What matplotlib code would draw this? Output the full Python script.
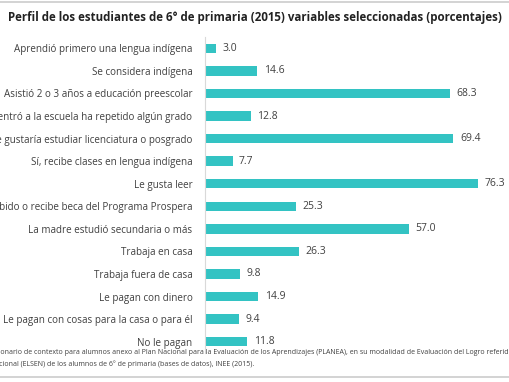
import matplotlib.pyplot as plt

# datos
categorias = [
    'Aprendió primero una lengua indígena',
    'Se considera indígena',
    'Asistió 2 o 3 años a educación preescolar',
    'Desde que entró a la escuela ha repetido algún grado',
    'Le gustaría estudiar licenciatura o posgrado',
    'Sí, recibe clases en lengua indígena',
    'Le gusta leer',
    'Ha recibido o recibe beca del Programa Prospera',
    'La madre estudió secundaria o más',
    'Trabaja en casa',
    'Trabaja fuera de casa',
    'Le pagan con dinero',
    'Le pagan con cosas para la casa o para él',
    'No le pagan',
]
valores = [3.0, 14.6, 68.3, 12.8, 69.4, 7.7, 76.3, 25.3, 57.0, 26.3, 9.8, 14.9, 9.4, 11.8]

titulo = 'Perfil de los estudiantes de 6° de primaria (2015) variables seleccionadas (porcentajes)'
fuente_1 = ('Fuente: Cuestionario de contexto para alumnos anexo al Plan Nacional para la Evaluación de los '
            'Aprendizajes (PLANEA), en su modalidad de Evaluación del Logro referida al Sistema')
fuente_2 = 'Educativo Nacional (ELSEN) de los alumnos de 6° de primaria (bases de datos), INEE (2015).'

plt.rcParams['font.family'] = ['Open Sans', 'DejaVu Sans']
color_barra = '#33C3C3'
color_texto = '#404040'

fig = plt.figure(figsize=(5.1, 3.82), dpi=100)
ax = fig.add_axes([205 / 510, 1 - 353 / 382, 285 / 510, (353 - 37) / 382])

y = list(range(len(categorias)))
ax.barh(y, valores, height=0.42, color=color_barra)
for yi, v in zip(y, valores):
    ax.text(v + 1.8, yi, f'{v:.1f}', va='center', ha='left', fontsize=7.5, color=color_texto)

ax.set_yticks(y)
ax.set_yticklabels(categorias, fontsize=7.1, color=color_texto)
ax.set_ylim(len(categorias) - 0.5, -0.5)
ax.set_xlim(0, 285 / 3.58)
ax.set_xticks([])
ax.tick_params(axis='y', length=0, pad=9)
for s in ['top', 'right', 'bottom']:
    ax.spines[s].set_visible(False)
ax.spines['left'].set_color('#d9d9d9')
ax.spines['left'].set_linewidth(0.8)

fig.text(0.5, 1 - 17 / 382, titulo, ha='center', va='center', fontsize=8.3,
         fontweight='bold', color='#222222')
# nota de fuente (recortada a la izquierda como en el original)
fig.text(-0.091, 1 - 352 / 382, fuente_1, ha='left', va='center', fontsize=5.0, color=color_texto)
fig.text(-0.086, 1 - 364 / 382, fuente_2, ha='left', va='center', fontsize=5.0, color=color_texto)

# líneas de borde
fig.add_artist(plt.Line2D([0, 1], [1 - 2 / 382, 1 - 2 / 382], color='#cccccc', lw=1.2))
fig.add_artist(plt.Line2D([0, 1], [1 - 377 / 382, 1 - 377 / 382], color='#cccccc', lw=1.2))

fig.savefig('out.png', dpi=100)
